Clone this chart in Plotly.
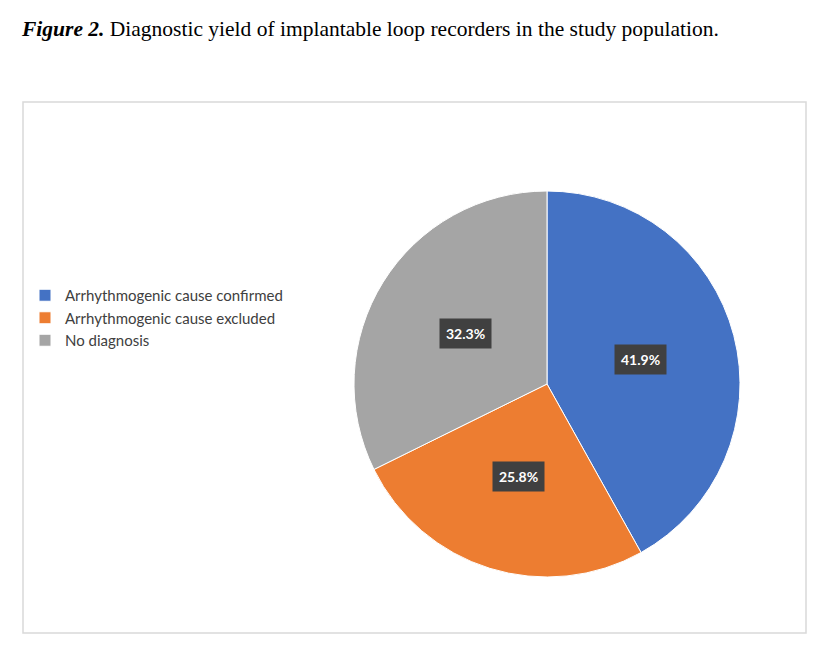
import math

import plotly.graph_objects as go

W, H = 823, 645
OFF = 8  # the page body margin shifts the figure by 8px

categories = [
    "Arrhythmogenic cause confirmed",
    "Arrhythmogenic cause excluded",
    "No diagnosis",
]
shares = [41.9, 25.8, 32.3]
colors = ["#4472C4", "#ED7D31", "#A5A5A5"]

# pie geometry in pixels (centre and radius)
cx, cy, r = 547 - OFF, 384 - OFF, 193

fig = go.Figure(
    go.Pie(
        labels=categories,
        values=shares,
        sort=False,
        direction="clockwise",
        rotation=0,
        textinfo="none",
        hoverinfo="label+percent",
        marker=dict(colors=colors, line=dict(color="white", width=1)),
        domain=dict(
            x=[(cx - r) / W, (cx + r) / W],
            y=[1 - (cy + r) / H, 1 - (cy - r) / H],
        ),
    )
)

# data labels: placed at half the radius on each slice's mid angle
total = sum(shares)
start = 0.0
for val in shares:
    mid = (start + val / 2) / total * 2 * math.pi
    start += val
    lx = cx + 0.5 * r * math.sin(mid)
    ly = cy - 0.5 * r * math.cos(mid)
    fig.add_annotation(
        x=lx / W,
        y=1 - ly / H,
        xref="paper",
        yref="paper",
        xanchor="center",
        yanchor="middle",
        text=f"<b>{val / total * 100:.1f}%</b>",
        showarrow=False,
        bgcolor="#404040",
        borderpad=6,
        font=dict(family="Lato, Open Sans, sans-serif", size=14, color="white"),
    )

fig.add_shape(
    type="rect",
    xref="paper",
    yref="paper",
    x0=(23 - OFF) / W,
    x1=(806 - OFF) / W,
    y0=1 - (633 - OFF) / H,
    y1=1 - (102 - OFF) / H,
    line=dict(color="#d9d9d9", width=1.5),
)

fig.update_layout(
    width=W,
    height=H,
    margin=dict(l=0, r=0, t=0, b=0),
    paper_bgcolor="white",
    plot_bgcolor="white",
    title=dict(
        text="<b><i>Figure 2.</i></b> Diagnostic yield of implantable loop recorders in the study population.",
        x=(22 - OFF) / W,
        xanchor="left",
        y=1 - (28 - OFF) / H,
        yanchor="middle",
        font=dict(family="Liberation Serif, Times New Roman, serif", size=21.5, color="black"),
    ),
    showlegend=True,
    legend=dict(
        x=(25 - OFF) / W,
        y=1 - (318 - OFF) / H,
        xanchor="left",
        yanchor="middle",
        itemwidth=30,
        font=dict(family="Lato, Open Sans, sans-serif", size=15, color="#404040"),
        bgcolor="rgba(0,0,0,0)",
        itemclick=False,
    ),
)

fig.write_html("out.html")
